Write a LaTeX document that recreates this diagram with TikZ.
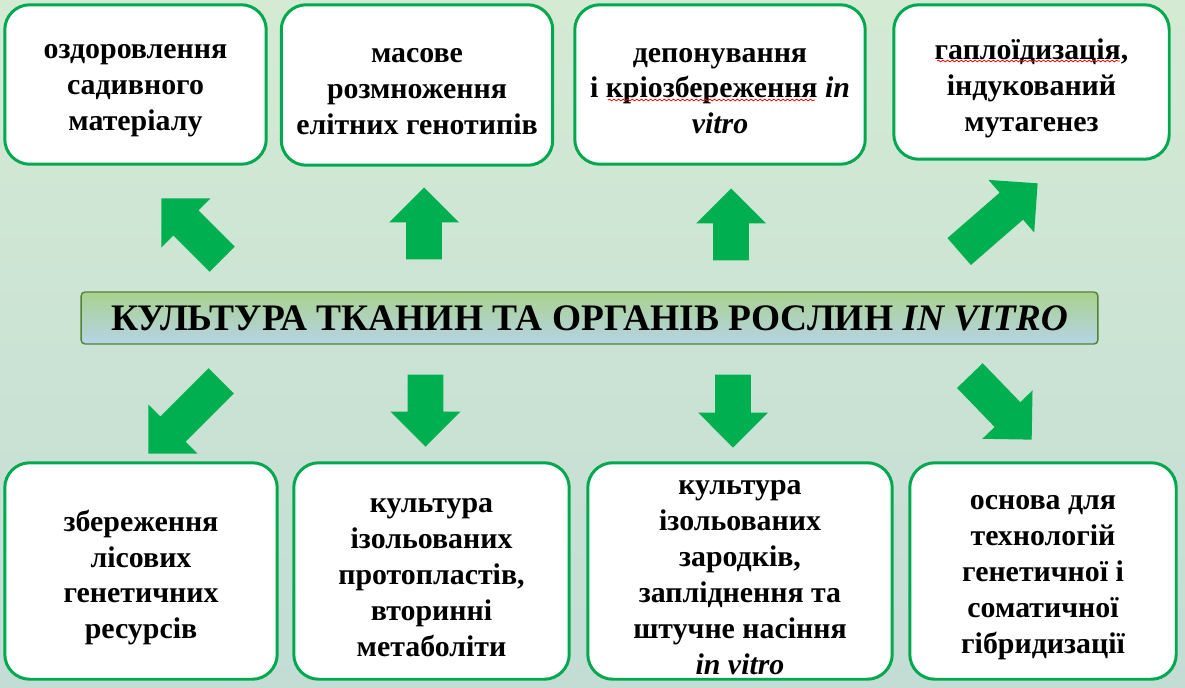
\documentclass[tikz,border=0pt]{standalone}
\usepackage{fontspec}
\setmainfont{Liberation Serif}
\usetikzlibrary{shapes.arrows,decorations.pathmorphing}
\definecolor{boxgreen}{RGB}{0,168,80}
\definecolor{arrowgreen}{RGB}{0,176,80}
\definecolor{bgtop}{RGB}{212,234,211}
\definecolor{bgbottom}{RGB}{195,221,213}
\definecolor{bartop}{RGB}{169,209,142}
\definecolor{barbottom}{RGB}{181,212,230}
\definecolor{barline}{RGB}{84,130,53}
\begin{document}
\begin{tikzpicture}[x=0.02cm,y=-0.02cm,
  box/.style={draw=boxgreen,line width=1.7pt,fill=white,rounded corners=0.5cm},
  boxtext/.style={align=center,inner sep=0pt,yshift=-0.13cm,font=\bfseries\fontsize{17}{20.4}\selectfont},
  blockarrow/.style={single arrow,fill=arrowgreen,inner xsep=0pt,inner ysep=0.35cm,anchor=tip,single arrow head extend=0.34cm},
  spell/.style={red,line width=0.45pt,decorate,decoration={snake,amplitude=0.45pt,segment length=2.6pt}}]
\shade[top color=bgtop,bottom color=bgbottom] (0,0) rectangle (1185,687);
\useasboundingbox (0,0) rectangle (1185,687);
\node[box,minimum width=5.23cm,minimum height=3.19cm,label={[boxtext]center:{оздоровлення\\садивного\\матеріалу}}] (heal) at (135.5,84.5) {};
\node[box,minimum width=5.43cm,minimum height=3.21cm,label={[boxtext]center:{масове\\розмноження\\елітних генотипів}}] (mass) at (417,85) {};
\node[box,minimum width=5.81cm,minimum height=3.19cm,label={[boxtext]center:{депонування\\і кріозбереження \textit{in}\\\textit{vitro}}}] (depo) at (720,84.5) {};
\node[box,minimum width=5.51cm,minimum height=3.09cm,label={[boxtext]center:{гаплоїдизація,\\індукований\\мутагенез}}] (hapl) at (1031.5,82) {};
\draw[spell] (608,100) -- (815,100);
\draw[spell] (937,61) -- (1120,61);
\node[draw=barline,line width=0.8pt,rounded corners=0.08cm,top color=bartop,bottom color=barbottom,minimum width=20.34cm,minimum height=1.04cm,font=\bfseries\fontsize{21.3}{25}\selectfont] (title) at (589.5,318) {КУЛЬТУРА ТКАНИН ТА ОРГАНІВ РОСЛИН \textit{IN VITRO}};
\node[box,minimum width=5.45cm,minimum height=4.33cm,label={[boxtext]center:{збереження\\лісових\\генетичних\\ресурсів}}] (forest) at (141,571) {};
\node[box,minimum width=5.51cm,minimum height=4.33cm,label={[boxtext]center:{культура\\ізольованих\\протопластів,\\вторинні\\метаболіти}}] (proto) at (431.5,571) {};
\node[box,minimum width=6.09cm,minimum height=4.33cm,label={[boxtext]center:{культура\\ізольованих\\зародків,\\запліднення та\\штучне насіння\\\textit{in vitro}}}] (embryo) at (740,571) {};
\node[box,minimum width=5.33cm,minimum height=4.33cm,label={[boxtext]center:{основа для\\технологій\\генетичної і\\соматичної\\гібридизації}}] (hybr) at (1043,571) {};
\node[blockarrow,rotate=135,minimum height=1.72cm] (toheal) at (161,198) {};
\node[blockarrow,rotate=90,minimum height=1.44cm] (tomass) at (424,187) {};
\node[blockarrow,rotate=90,minimum height=1.44cm] (todepo) at (731,188) {};
\node[blockarrow,rotate=41,minimum height=2.08cm] (tohapl) at (1038,183) {};
\node[blockarrow,rotate=225,minimum height=2.06cm] (toforest) at (148,454) {};
\node[blockarrow,rotate=-90,minimum height=1.44cm] (toproto) at (425.5,447) {};
\node[blockarrow,rotate=-90,minimum height=1.46cm] (toembryo) at (733,448) {};
\node[blockarrow,rotate=-46,minimum height=1.78cm] (tohybr) at (1032,440) {};
\end{tikzpicture}
\end{document}
